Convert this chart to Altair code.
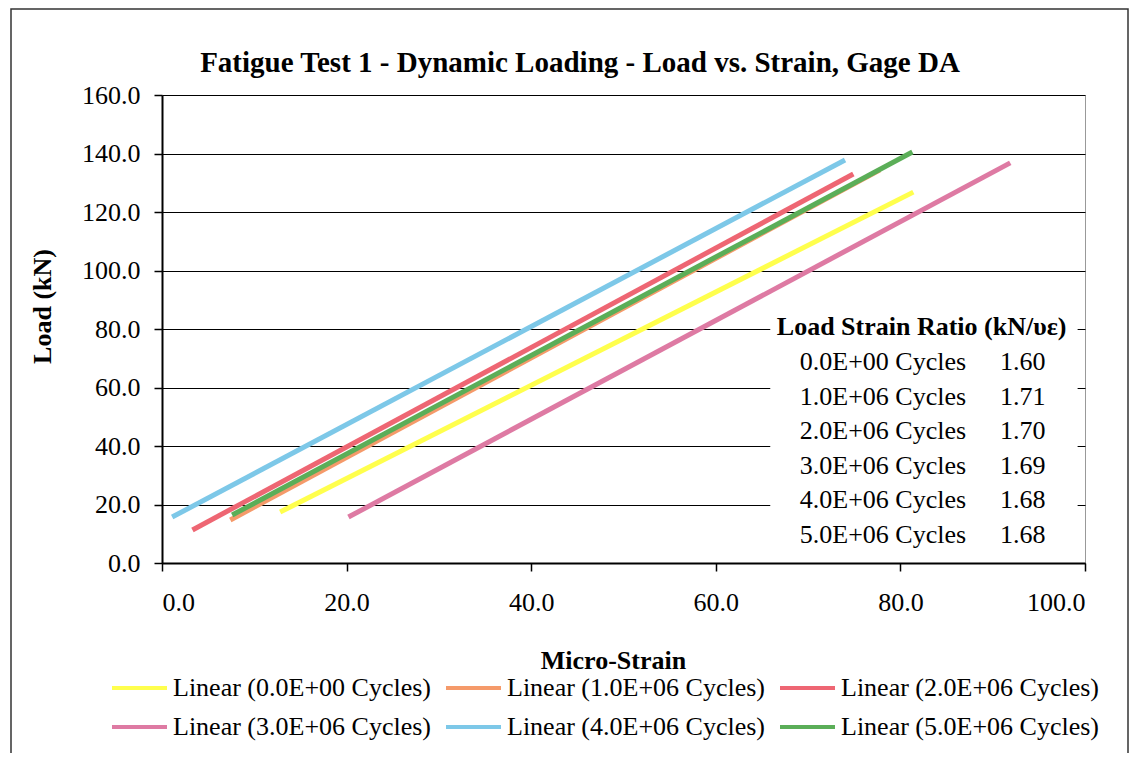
import altair as alt
import pandas as pd

# ---- data ----
chart_title = "Fatigue Test 1 - Dynamic Loading - Load vs. Strain, Gage DA"
series = [
    "Linear (0.0E+00 Cycles)",
    "Linear (1.0E+06 Cycles)",
    "Linear (2.0E+06 Cycles)",
    "Linear (3.0E+06 Cycles)",
    "Linear (4.0E+06 Cycles)",
    "Linear (5.0E+06 Cycles)",
]
colors = ["#FFFF4D", "#F59A6A", "#EE6673", "#DE7AA3", "#7DC8E8", "#5BAE58"]
x_start = [12.8, 7.4, 3.3, 20.2, 1.1, 7.6]
y_start = [17.4, 14.7, 11.3, 15.7, 15.7, 16.4]
x_end = [81.4, 77.8, 74.9, 91.9, 74.0, 81.3]
y_end = [126.8, 134.4, 133.0, 136.8, 137.8, 140.5]

ratio_title = "Load Strain Ratio (kN/\u03c5\u03b5)"
ratio_cycles = ["0.0E+00 Cycles", "1.0E+06 Cycles", "2.0E+06 Cycles",
                "3.0E+06 Cycles", "4.0E+06 Cycles", "5.0E+06 Cycles"]
ratio_values = ["1.60", "1.71", "1.70", "1.69", "1.68", "1.68"]

x_ticks = [0, 20, 40, 60, 80, 100]
y_ticks = [0, 20, 40, 60, 80, 100, 120, 140, 160]

FONT = "Liberation Serif"
FS = 26

# ---- tables ----
rows = []
for s, xs, ys, xe, ye in zip(series, x_start, y_start, x_end, y_end):
    rows.append({"series": s, "strain": xs, "load": ys, "o": 0})
    rows.append({"series": s, "strain": xe, "load": ye, "o": 1})
lines_df = pd.DataFrame(rows)

# annotation box layout (data units)
box_df = pd.DataFrame({"x": [65.9], "x2": [99.2], "y": [4.5], "y2": [88.0]})
hdr_df = pd.DataFrame({"x": [82.3], "y": [80.7], "t": [ratio_title]})
row_step = 11.8
row_df = pd.DataFrame({
    "cyc": ratio_cycles,
    "val": ratio_values,
    "y": [68.6 - row_step * i for i in range(len(ratio_cycles))],
})

xscale = alt.Scale(domain=[0, 100], nice=False, zero=False)
yscale = alt.Scale(domain=[0, 160], nice=False, zero=False)

lines = alt.Chart(lines_df).mark_line(strokeWidth=5, strokeCap="butt").encode(
    x=alt.X("strain:Q", scale=xscale,
            axis=alt.Axis(values=x_ticks, format=".1f", title="Micro-Strain",
                          grid=False, tickSize=8, labelPadding=18,
                          titleX=451, titleY=97, titleBaseline="middle",
                          titleAlign="center")),
    y=alt.Y("load:Q", scale=yscale,
            axis=alt.Axis(values=y_ticks, format=".1f", title="Load (kN)",
                          grid=True, tickSize=8, labelPadding=14,
                          titleX=-120, titleY=211, titleBaseline="middle",
                          titleAlign="center")),
    color=alt.Color("series:N",
                    scale=alt.Scale(domain=series, range=colors),
                    sort=series,
                    legend=alt.Legend(title=None, orient="none", legendX=-52,
                                      legendY=580, columns=3, direction="horizontal",
                                      symbolType="M-1,0H4", symbolStrokeWidth=4,
                                      symbolSize=484, labelLimit=400,
                                      labelFont=FONT, labelFontSize=FS,
                                      labelColor="black", columnPadding=7,
                                      rowPadding=13, labelOffset=37)),
    order="o:Q",
)

box = alt.Chart(box_df).mark_rect(fill="white", strokeWidth=0).encode(
    x=alt.X("x:Q", scale=xscale), x2="x2:Q",
    y=alt.Y("y:Q", scale=yscale), y2="y2:Q",
)

hdr = alt.Chart(hdr_df).mark_text(font=FONT, fontSize=FS, fontWeight="bold",
                                  align="center", baseline="middle",
                                  color="black").encode(
    x=alt.X("x:Q", scale=xscale), y=alt.Y("y:Q", scale=yscale), text="t:N")

cyc = alt.Chart(row_df).mark_text(font=FONT, fontSize=FS, align="left",
                                  baseline="middle", color="black").encode(
    x=alt.value(69.1 * 9.23), y=alt.Y("y:Q", scale=yscale), text="cyc:N")

val = alt.Chart(row_df).mark_text(font=FONT, fontSize=FS, align="left",
                                  baseline="middle", color="black").encode(
    x=alt.value(90.8 * 9.23), y=alt.Y("y:Q", scale=yscale), text="val:N")

title_df = pd.DataFrame({"t": [chart_title]})
title = alt.Chart(title_df).mark_text(font=FONT, fontSize=29, fontWeight="bold",
                                      align="center", baseline="middle",
                                      color="black").encode(
    x=alt.value(418), y=alt.value(-32), text="t:N")

frame = alt.Chart(pd.DataFrame({"a": [0]})).mark_rect(
    fill=None, stroke="#333", strokeWidth=1.5).encode(
    x=alt.value(-151), x2=alt.value(966),
    y=alt.value(-86), y2=alt.value(664),
)

chart = alt.layer(frame, box, lines, hdr, cyc, val, title).properties(
    width=923, height=468,
    padding={"left": 154, "top": 87, "right": 44, "bottom": 190},
    autosize=alt.AutoSizeParams(type="none"),
).configure_view(
    stroke="#999", strokeWidth=1
).configure_axis(
    labelFont=FONT, labelFontSize=FS, labelColor="black",
    titleFont=FONT, titleFontSize=FS, titleFontWeight="bold", titleColor="black",
    domainColor="black", domainWidth=2, tickColor="black", tickWidth=1.5,
    gridColor="black", gridWidth=1.2, gridOpacity=1,
)

chart.save("out.html", embed_options={"renderer": "svg", "actions": False})
